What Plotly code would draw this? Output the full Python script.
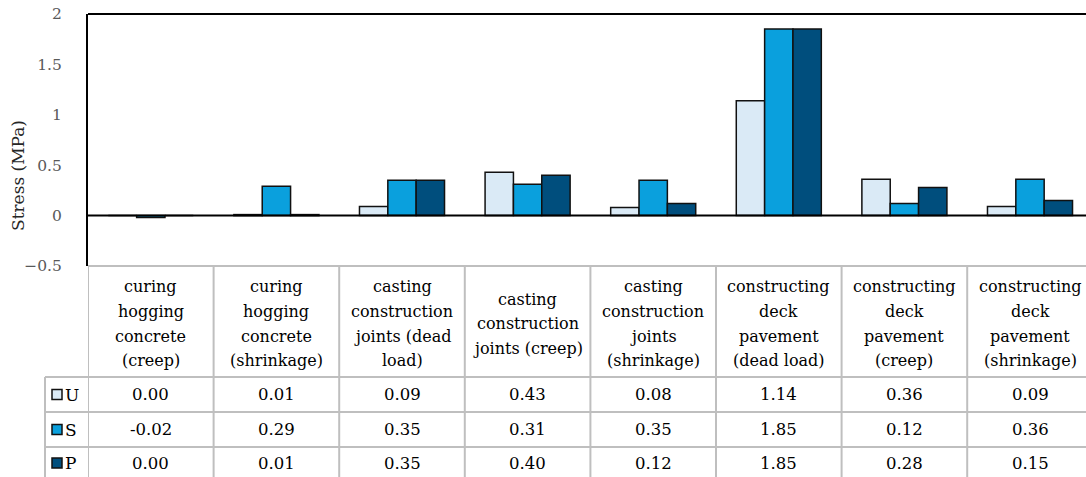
import plotly.graph_objects as go

# Construction stages (column headers of the data table)
categories = [
    "curing<br>hogging<br>concrete<br>(creep)",
    "curing<br>hogging<br>concrete<br>(shrinkage)",
    "casting<br>construction<br>joints (dead<br>load)",
    "casting<br>construction<br>joints (creep)",
    "casting<br>construction<br>joints<br>(shrinkage)",
    "constructing<br>deck<br>pavement<br>(dead load)",
    "constructing<br>deck<br>pavement<br>(creep)",
    "constructing<br>deck<br>pavement<br>(shrinkage)",
]

# Stress values (MPa) for each series
series_names = ["U", "S", "P"]
u_values = [0.00, 0.01, 0.09, 0.43, 0.08, 1.14, 0.36, 0.09]
s_values = [-0.02, 0.29, 0.35, 0.31, 0.35, 1.85, 0.12, 0.36]
p_values = [0.00, 0.01, 0.35, 0.40, 0.12, 1.85, 0.28, 0.15]

y_ticks = [-0.5, 0, 0.5, 1, 1.5, 2]
y_tick_text = ["\u22120.5", "0", "0.5", "1", "1.5", "2"]

colors = ["#DAEAF6", "#0AA0DD", "#004E7D"]
series_values = [u_values, s_values, p_values]

W, H = 1086, 477
ML, MR, MT, MB = 88, 0, 14, 211
PW = W - ML - MR
PH = H - MT - MB
COL_W = 125.6  # pixel width of one category column

FONT = "DejaVu Serif"
GRID = "#BFBFBF"

n = len(categories)
xs = list(range(n))

fig = go.Figure()
for name, vals, col in zip(series_names, series_values, colors):
    fig.add_trace(go.Bar(
        x=xs, y=vals, name=name,
        marker=dict(color=col, line=dict(color="#111111", width=1.5)),
        showlegend=False,
    ))


def py(pix):
    """Pixel row (from top of page) -> paper y coordinate."""
    return (MT + PH - pix) / PH


def px(pix):
    """Pixel column -> paper x coordinate."""
    return (pix - ML) / PW


shapes = []
# top frame line of the plot area
shapes.append(dict(type="line", xref="paper", yref="paper", x0=0, x1=1,
                   y0=1, y1=1, line=dict(color="#000000", width=2)))
# zero line
shapes.append(dict(type="line", xref="paper", yref="y", x0=0, x1=1,
                   y0=0, y1=0, line=dict(color="#000000", width=2)))

# data table grid
row_tops = [266, 377, 412, 447]
for r, yy in enumerate(row_tops):
    x0 = 0 if r == 0 else px(45)
    shapes.append(dict(type="line", xref="paper", yref="paper", x0=x0, x1=1,
                       y0=py(yy), y1=py(yy), line=dict(color=GRID, width=2)))
# legend column left edge
shapes.append(dict(type="line", xref="paper", yref="paper", x0=px(45), x1=px(45),
                   y0=py(377), y1=py(H + 5), line=dict(color=GRID, width=2)))
# category column dividers
for i in range(n):
    shapes.append(dict(type="line", xref="x", yref="paper", x0=i - 0.5, x1=i - 0.5,
                       y0=py(266), y1=py(H + 5), line=dict(color=GRID, width=2)))

annotations = []
# header labels, one annotation per line for Excel-like line spacing
HEAD_CENTER, LINE_H = 323.7, 24.7
for i, cat in enumerate(categories):
    lines = cat.split("<br>")
    k = len(lines)
    for j, txt in enumerate(lines):
        yc = HEAD_CENTER + (j - (k - 1) / 2) * LINE_H
        annotations.append(dict(x=i, y=py(yc), xref="x", yref="paper", text=txt,
                                showarrow=False, xanchor="center", yanchor="middle",
                                font=dict(family=FONT, size=16, color="#000000")))

# value rows with legend keys
row_centers = [394.5, 429.5, 463]
for name, vals, col, yc in zip(series_names, series_values, colors, row_centers):
    for i, v in enumerate(vals):
        annotations.append(dict(x=i, y=py(yc), xref="x", yref="paper",
                                text=f"{v:.2f}", showarrow=False,
                                xanchor="center", yanchor="middle",
                                font=dict(family=FONT, size=16.5, color="#000000")))
    shapes.append(dict(type="rect", xref="paper", yref="paper",
                       x0=px(52), x1=px(62), y0=py(yc + 5), y1=py(yc - 5),
                       fillcolor=col, line=dict(color="#111111", width=1.5)))
    annotations.append(dict(x=px(63), y=py(yc), xref="paper", yref="paper",
                            text=name, showarrow=False, xanchor="left",
                            yanchor="middle",
                            font=dict(family=FONT, size=17, color="#000000")))

# y-axis title
annotations.append(dict(x=px(18), y=py(176), xref="paper", yref="paper",
                        text="Stress (MPa)", textangle=-90, showarrow=False,
                        xanchor="center", yanchor="middle",
                        font=dict(family=FONT, size=17, color="#262626")))

fig.update_layout(
    width=W, height=H,
    margin=dict(l=ML, r=MR, t=MT, b=MB, pad=0),
    paper_bgcolor="white", plot_bgcolor="white",
    font=dict(family=FONT),
    barmode="group", bargap=0.323, bargroupgap=0,
    shapes=shapes, annotations=annotations,
    xaxis=dict(range=[-0.5, -0.5 + PW / COL_W], showticklabels=False,
               showgrid=False, zeroline=False, showline=False, ticks=""),
    yaxis=dict(range=[-0.5, 2], tickvals=y_ticks, ticktext=y_tick_text,
               showgrid=False, zeroline=False, showline=True,
               linecolor="#000000", linewidth=2, ticks="",
               ticklabelstandoff=21,
               tickfont=dict(family=FONT, size=15.5, color="#595959")),
)

fig.write_html("out.html")
